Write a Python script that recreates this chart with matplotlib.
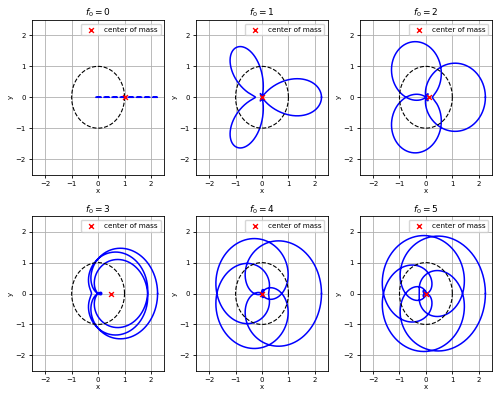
import numpy as np
import matplotlib.pyplot as plt

# signal components: offset + two cosines
signal_freqs = [0, 3, 2]
signal_amps = [1.0, 1.0, 0.25]
winding_freqs = [0, 1, 2, 3, 4, 5]

t = np.linspace(0, 1, 2000)
g = np.zeros_like(t)
for f, a in zip(signal_freqs, signal_amps):
    g += a * np.cos(2 * np.pi * f * t)

theta = np.linspace(0, 2 * np.pi, 300)

fig, axes = plt.subplots(2, 3, figsize=(5, 4), dpi=100)
fig.subplots_adjust(left=0.064, right=0.984, top=0.95, bottom=0.073,
                    wspace=0.24, hspace=0.27)

for ax, f0 in zip(axes.flat, winding_freqs):
    z = g * np.exp(-2j * np.pi * f0 * t)
    com = z[:-1].mean()
    ls = '--' if f0 == 0 else '-'
    ax.plot(z.real, z.imag, color='blue', lw=1.1, ls=ls)
    ax.plot(np.cos(theta), np.sin(theta), 'k--', lw=0.8)
    ax.scatter(com.real, com.imag, color='red', marker='x', s=12, lw=1,
               zorder=5, label='center of mass')
    ax.set_xlim(-2.5, 2.5)
    ax.set_ylim(-2.5, 2.5)
    ax.set_xticks([-2, -1, 0, 1, 2])
    ax.set_yticks([-2, -1, 0, 1, 2])
    ax.tick_params(labelsize=5, length=2.5, width=0.6, pad=2)
    ax.set_xlabel('x', fontsize=5, labelpad=1)
    ax.set_ylabel('y', fontsize=5, labelpad=1)
    ax.set_title(r'$f_0 = %d$' % f0, fontsize=6.5, pad=3)
    ax.grid(True, lw=0.6, color='#b0b0b0')
    for s in ax.spines.values():
        s.set_linewidth(0.6)
    ax.legend(loc='upper right', fontsize=5.2, handletextpad=0.8,
              borderpad=0.4, framealpha=0.8)

fig.savefig('out.png', dpi=100)
